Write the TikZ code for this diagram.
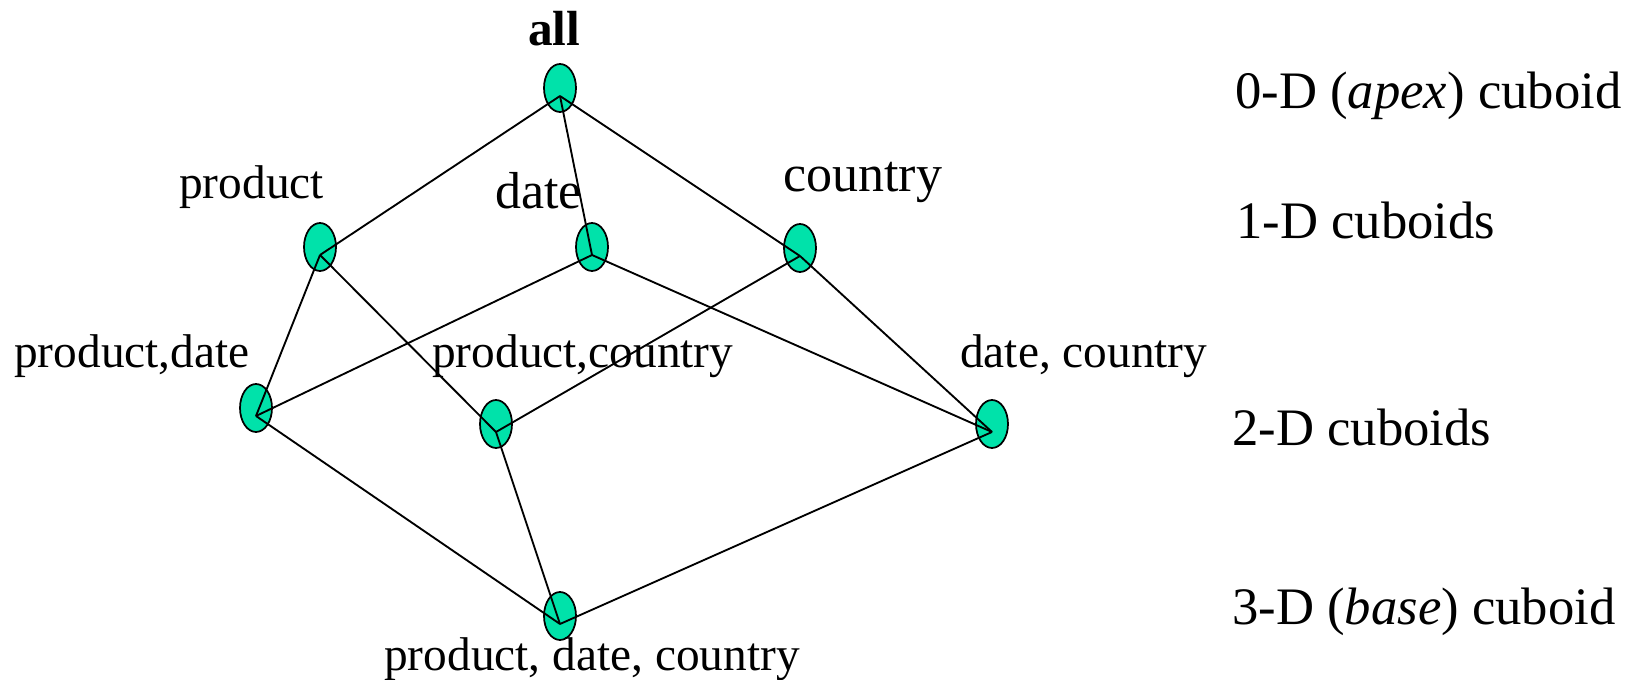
\documentclass[tikz,border=0pt]{standalone}
\usepackage{fontspec}
\setmainfont{Liberation Serif}
\usepackage{tikz}
\usetikzlibrary{shapes.geometric}
\definecolor{cuboidgreen}{RGB}{0,226,170}
\tikzset{cuboid/.style={ellipse,draw,line width=1.3pt,fill=cuboidgreen,minimum width=24pt,minimum height=36pt,inner sep=0pt}}
\tikzset{edge/.style={line width=1.4pt}}
\newcommand{\lblfont}{\fontsize{35.5}{40}\selectfont}
\newcommand{\levelfont}{\fontsize{39.5}{44}\selectfont}

\begin{document}
\begin{tikzpicture}[x=0.75pt,y=0.75pt,yscale=-1,xscale=1]
\useasboundingbox (0,0) rectangle (1643,680);

%Shape: Ellipse
\node [cuboid] (all) at (560,88) {};
\node [cuboid] (product) at (320,247) {};
\node [cuboid] (date) at (592,247) {};
\node [cuboid] (country) at (800,248) {};
\node [cuboid] (proddate) at (256,408) {};
\node [cuboid] (prodcountry) at (496,424) {};
\node [cuboid] (datecountry) at (992,424) {};
\node [cuboid] (base) at (560,616) {};

%Straight Lines
\draw [edge] ([yshift=6pt]all.center) -- ([yshift=6pt]product.center) ;
%Straight Lines
\draw [edge] ([yshift=6pt]all.center) -- ([yshift=6pt]date.center) ;
%Straight Lines
\draw [edge] ([yshift=6pt]all.center) -- ([yshift=6pt]country.center) ;
%Straight Lines
\draw [edge] ([yshift=6pt]product.center) -- ([yshift=6pt]proddate.center) ;
%Straight Lines
\draw [edge] ([yshift=6pt]product.center) -- ([yshift=6pt]prodcountry.center) ;
%Straight Lines
\draw [edge] ([yshift=6pt]date.center) -- ([yshift=6pt]proddate.center) ;
%Straight Lines
\draw [edge] ([yshift=6pt]date.center) -- ([yshift=6pt]datecountry.center) ;
%Straight Lines
\draw [edge] ([yshift=6pt]country.center) -- ([yshift=6pt]prodcountry.center) ;
%Straight Lines
\draw [edge] ([yshift=6pt]country.center) -- ([yshift=6pt]datecountry.center) ;
%Straight Lines
\draw [edge] ([yshift=6pt]proddate.center) -- ([yshift=6pt]base.center) ;
%Straight Lines
\draw [edge] ([yshift=6pt]prodcountry.center) -- ([yshift=6pt]base.center) ;
%Straight Lines
\draw [edge] ([yshift=6pt]datecountry.center) -- ([yshift=6pt]base.center) ;

% Text Node
\draw (528,46) node [anchor=base west][inner sep=0pt] (alllbl) {\fontsize{37}{42}\selectfont\bfseries all};
% Text Node
\draw (179,199) node [anchor=base west][inner sep=0pt] (productlbl) {\lblfont product};
% Text Node
\draw (495,209) node [anchor=base west][inner sep=0pt] (datelbl) {\fontsize{39}{44}\selectfont date};
% Text Node
\draw (783,192) node [anchor=base west][inner sep=0pt] (countrylbl) {\fontsize{39}{44}\selectfont country};
% Text Node
\draw (14,368) node [anchor=base west][inner sep=0pt] (proddatelbl) {\lblfont product,date};
% Text Node
\draw (432,368) node [anchor=base west][inner sep=0pt] (prodcountrylbl) {\lblfont product,country};
% Text Node
\draw (960,368) node [anchor=base west][inner sep=0pt] (datecountrylbl) {\lblfont date, country};
% Text Node
\draw (384,671) node [anchor=base west][inner sep=0pt] (baselbl) {\lblfont product, date, country};

% Text Node
\draw (1235,109) node [anchor=base west][inner sep=0pt] (level0) {\levelfont 0-D (\textit{apex}) cuboid};
% Text Node
\draw (1236,239) node [anchor=base west][inner sep=0pt] (level1) {\levelfont 1-D cuboids};
% Text Node
\draw (1232,446) node [anchor=base west][inner sep=0pt] (level2) {\levelfont 2-D cuboids};
% Text Node
\draw (1232,624) node [anchor=base west][inner sep=0pt] (level3) {\levelfont 3-D (\textit{base}) cuboid};

\end{tikzpicture}
\end{document}
